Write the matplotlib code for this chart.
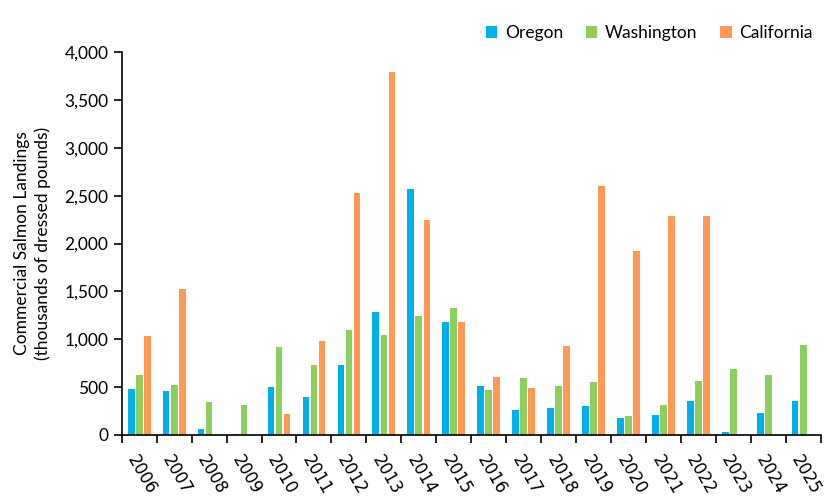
import numpy as np
import matplotlib.pyplot as plt
from matplotlib.ticker import FuncFormatter, FixedLocator

years = [str(y) for y in range(2006, 2026)]
oregon = [484, 463, 66, 14, 505, 400, 734, 1288, 2572, 1184,
          515, 265, 285, 306, 181, 212, 359, 35, 233, 359]
washington = [630, 526, 348, 317, 922, 734, 1100, 1048, 1246, 1330,
              473, 599, 515, 557, 202, 317, 567, 693, 630, 943]
california = [1037, 1528, 0, 0, 223, 985, 2531, 3794, 2249, 1184,
              609, 494, 933, 2604, 1925, 2290, 2290, 0, 0, 0]

series = [("Oregon", oregon, "#00B0EB"),
          ("Washington", washington, "#8CCF5E"),
          ("California", california, "#FF9955")]

lab_font = ["Lato", "DejaVu Sans"]

fig = plt.figure(figsize=(8.34, 4.97), dpi=100)
ax = fig.add_axes([0.146, 0.125, 0.838, 0.770])

x = np.arange(len(years))
width = 0.19
offsets = [-0.23, 0.0, 0.23]
for (name, vals, color), off in zip(series, offsets):
    ax.bar(x + off, vals, width, color=color, label=name)

ax.set_xlim(-0.5, len(years) - 0.5)
ax.set_ylim(0, 4000)
ax.set_yticks(np.arange(0, 4001, 500))
ax.yaxis.set_major_formatter(FuncFormatter(lambda v, p: f"{int(v):,}"))
for lbl in ax.get_yticklabels():
    lbl.set_family(lab_font)
    lbl.set_fontsize(12.5)

ax.set_xticks(x)
ax.set_xticklabels(years, rotation=-60, ha="left", va="top",
                   rotation_mode="anchor", fontsize=12)
ax.xaxis.set_minor_locator(FixedLocator(np.arange(-0.5, len(years), 1.0)))
ax.tick_params(axis="x", which="major", length=0, pad=12)
ax.tick_params(axis="x", which="minor", length=6, width=1.2, direction="out")
ax.tick_params(axis="y", length=6, width=1.2, direction="out")

for s in ["top", "right"]:
    ax.spines[s].set_visible(False)
for s in ["left", "bottom"]:
    ax.spines[s].set_linewidth(1.2)

ax.set_ylabel("Commercial Salmon Landings\n(thousands of dressed pounds)",
              family=lab_font, fontsize=12.5, labelpad=10, linespacing=1.3)

ax.legend(loc="lower right", bbox_to_anchor=(1.005, 1.0), ncol=3, frameon=False,
          prop={"family": lab_font, "size": 12.5}, handlelength=0.65,
          handleheight=0.65, handletextpad=0.45, columnspacing=1.3,
          borderaxespad=0.25)

fig.savefig("out.png", dpi=100)
